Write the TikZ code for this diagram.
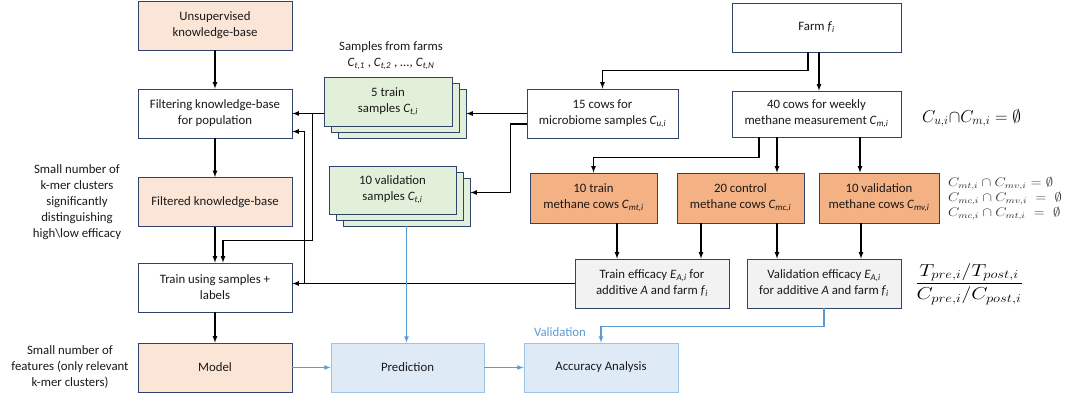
\documentclass[tikz,border=0pt]{standalone}
\usepackage{fontspec}
\setmainfont{Carlito}
\definecolor{navy}{HTML}{2F4468}
\definecolor{peach}{HTML}{FBE5D6}
\definecolor{leaf}{HTML}{E2F0D9}
\definecolor{apricot}{HTML}{F4B183}
\definecolor{paper}{HTML}{F2F2F2}
\definecolor{sky}{HTML}{DEEBF7}
\definecolor{skyline}{HTML}{9DC3E6}
\definecolor{flow}{HTML}{5B9BD5}
\newcommand{\csub}[2]{\textit{#1}\textsubscript{\textit{#2}}}
\begin{document}
\begin{tikzpicture}[
x=1pt,
y=-1pt,
every node/.style={%
font=\fontsize{12.8}{16}\selectfont,
text=black!90,
},
box/.style={%
draw=navy,
line width=0.9pt,
align=center,
minimum width=154pt,
minimum height=49pt,
inner sep=1pt,
fill=white,
},
kb/.style={%
box,
fill=peach,
},
grn/.style={%
box,
fill=leaf,
minimum width=128pt,
},
org/.style={%
box,
fill=apricot,
minimum width=127pt,
minimum height=50pt,
},
gry/.style={%
box,
fill=paper,
},
blu/.style={%
box,
draw=skyline,
fill=sky,
},
note/.style={%
align=center,
},
eq/.style={%
font=\fontsize{17.5}{20}\selectfont,
text=black,
},
eqs/.style={%
font=\fontsize{12}{16}\selectfont,
text=black!80,
},
arr/.style={%
arrows=-latex,
line width=1.2pt,
},
barr/.style={%
arrows=-latex,
line width=1.1pt,
draw=flow,
},
]
\useasboundingbox (0,0) rectangle (1072,400);
%% Knowledge-base column
\node[kb]at(215,25.5)(unsup){Unsupervised\\knowledge-base};
\node[box]at(215,113.5)(filt){Filtering knowledge-base\\for population};
\node[kb]at(215,202)(filtd){Filtered knowledge-base};
\node[box]at(215,287.5)(train){Train using samples +\\labels};
\node[kb]at(215,367.5)(model){Model};
\node[note]at(77,202)(noteA){Small number of\\k-mer clusters\\significantly\\distinguishing\\high\textbackslash low efficacy};
\node[note]at(70,367)(noteB){Small number of\\features (only relevant\\k-mer clusters)};
%% Sample stacks
\foreach \dx/\dy/\n in {14/12/c,7/6/b}{%
\node[grn]at(388+\dx,101.5+\dy)(trs\n){};
\node[grn, minimum width=127pt, minimum height=48pt]at(392.5+\dx,190+\dy)(vls\n){};
}
\node[grn]at(388,101.5)(trsa){5 train\\samples \csub{C}{t,i}};
\node[grn, minimum width=127pt, minimum height=48pt]at(392.5,190)(vlsa){10 validation\\samples \csub{C}{t,i}};
\node[note]at(391,56)(farms){Samples from farms\\\csub{C}{t,1} , \csub{C}{t,2} , \textit{...,} \csub{C}{t,N}};
%% Farm side
\node[box, minimum width=169pt]at(816.5,27.5)(farm){Farm \csub{f}{i}};
\node[box, minimum width=151pt]at(602.5,113.5)(micro){15 cows for\\microbiome samples \csub{C}{u,i}};
\node[box, minimum width=169pt, minimum height=46pt]at(816.5,114)(meth){40 cows for weekly\\methane measurement \csub{C}{m,i}};
\node[org]at(593.5,198)(mtrain){10 train\\methane cows \csub{C}{mt,i}};
\node[org]at(740.5,198)(mctrl){20 control\\methane cows \csub{C}{mc,i}};
\node[org, minimum width=120pt]at(879,198)(mval){10 validation\\methane cows \csub{C}{mv,i}};
\node[gry]at(652,283.5)(teff){Train efficacy \csub{E}{A,i} for\\additive \textit{A} and farm \csub{f}{i}};
\node[gry]at(824,283.5)(veff){Validation efficacy \csub{E}{A,i}\\for additive \textit{A} and farm \csub{f}{i}};
%% Prediction row
\node[blu, minimum width=153pt]at(407.5,367.5)(pred){Prediction};
\node[blu]at(601,367.5)(acc){Accuracy Analysis};
\node[text=flow]at(560,332)(vtext){Validation};
%% Equations
\node[eq, anchor=west, inner sep=0pt]at(922,118)(disj){$C_{u,i}{\cap}C_{m,i}=\emptyset$};
\node[eqs, anchor=west, inner sep=0pt]at(948,198)(disjm){\scalebox{1.22}[1.05]{\begin{tabular}{@{}l@{}}$C_{mt,i}\cap C_{mv,i}=\emptyset$\\[-1.5pt]$C_{mc,i}\cap C_{mv,i}\;=\;\emptyset$\\[-1.5pt]$C_{mc,i}\cap C_{mt,i}\;=\;\emptyset$\end{tabular}}};
\node[eq, anchor=west, inner sep=0pt]at(915,284)(ratio){\scalebox{1.22}[1]{$\displaystyle\frac{T_{pre,i}/T_{post,i}}{C_{pre,i}/C_{post,i}}$}};
%% Black arrows
\draw[arr](unsup)--(filt);
\draw[arr](filt)--(filtd);
\draw[arr](filtd)--(train);
\draw[arr](train)--(model);
\draw[arr](trsa.west |- filt.east)--(filt.east);
\draw[arr]([xshift=20]filt.east)|-([xshift=8,yshift=22]train.north)--([xshift=8]train.north);
\coordinate(tj)at(teff.west -| train.east);
\draw[arr](teff.west)--(tj);
\draw[arr]([xshift=12]tj)|-([yshift=-18]filt.east);
\draw[arr](micro.west)--(micro.west -| trsc.east);
\draw[arr]([yshift=-10.5]micro.west)-|([xshift=40,yshift=9.5]vlsc.east)--([yshift=9.5]vlsc.east);
\draw[arr]([xshift=-8.5]farm.south)--++(0,18)-|(micro.north);
\draw[arr]([xshift=2.5]farm.south)--([xshift=2.5]meth.north);
\draw[arr]([xshift=-57.5]meth.south)--++(0,20)-|(mtrain.north);
\draw[arr]([xshift=-39.5]meth.south)--([xshift=36.5]mctrl.north);
\draw[arr]([xshift=43.5]meth.south)--([xshift=-19]mval.north);
\draw[arr]([xshift=23.5]mtrain.south)--([xshift=-35]teff.north);
\draw[arr]([xshift=-39.5]mctrl.south)--([xshift=49]teff.north);
\draw[arr]([xshift=36.5]mctrl.south)--([xshift=-47]veff.north);
\draw[arr]([xshift=-18]mval.south)--([xshift=37]veff.north);
%% Blue arrows
\draw[barr](vlsc.south)--(vlsc.south |- pred.north);
\draw[barr](model)--(pred);
\draw[barr](pred)--(acc);
\draw[barr](veff.south)--++(0,18)-|(acc.north);
\end{tikzpicture}
\end{document}
